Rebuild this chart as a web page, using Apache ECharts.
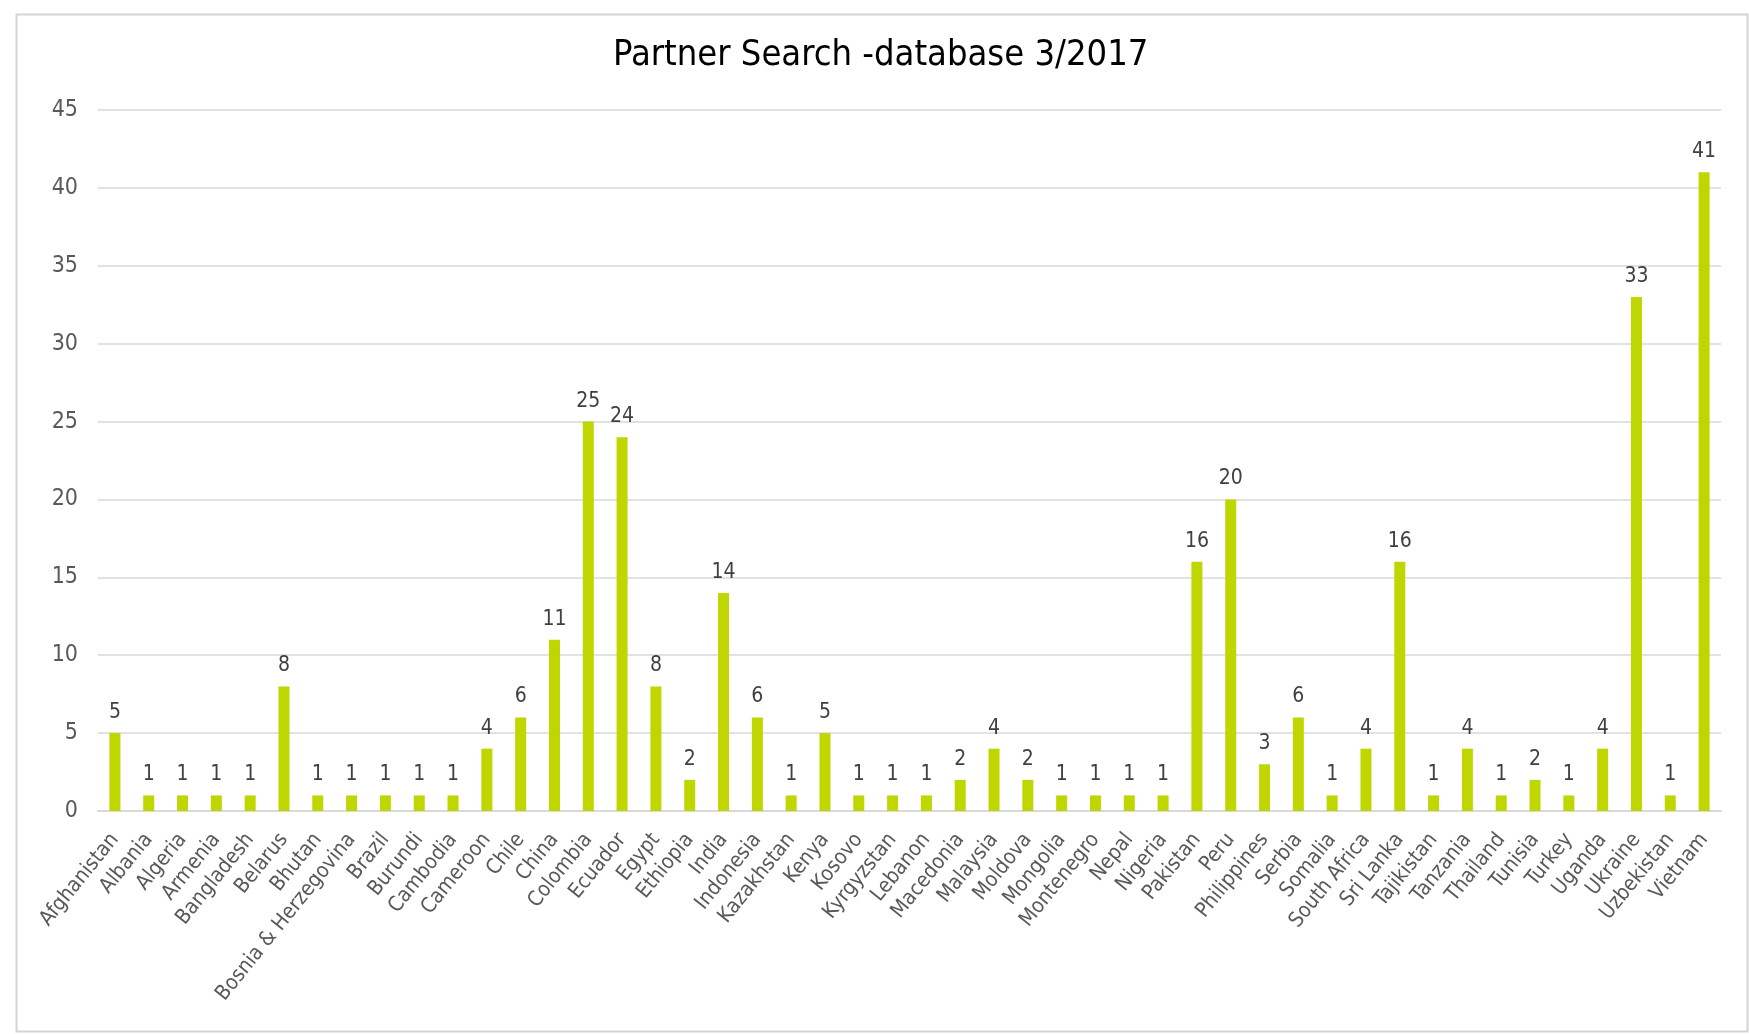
<!DOCTYPE html>
<html>
<head>
<meta charset="utf-8">
<script src="https://cdn.jsdelivr.net/npm/echarts@6/dist/echarts.min.js"></script>
<style>
html,body{margin:0;padding:0;background:#fff;}
#chart{width:1749px;height:1034px;}
</style>
</head>
<body>
<div id="chart"></div>
<script>
const categories = ["Afghanistan","Albania","Algeria","Armenia","Bangladesh","Belarus","Bhutan","Bosnia & Herzegovina","Brazil","Burundi","Cambodia","Cameroon","Chile","China","Colombia","Ecuador","Egypt","Ethiopia","India","Indonesia","Kazakhstan","Kenya","Kosovo","Kyrgyzstan","Lebanon","Macedonia","Malaysia","Moldova","Mongolia","Montenegro","Nepal","Nigeria","Pakistan","Peru","Philippines","Serbia","Somalia","South Africa","Sri Lanka","Tajikistan","Tanzania","Thailand","Tunisia","Turkey","Uganda","Ukraine","Uzbekistan","Vietnam"];
const values = [5,1,1,1,1,8,1,1,1,1,1,4,6,11,25,24,8,2,14,6,1,5,1,1,1,2,4,2,1,1,1,1,16,20,3,6,1,4,16,1,4,1,2,1,4,33,1,41];
const titleText = "Partner Search -database 3/2017";
const yMin = 0, yMax = 45, yInterval = 5;

const FONT = "'DejaVu Sans Condensed', 'DejaVu Sans', sans-serif";
const chart = echarts.init(document.getElementById('chart'), null, {renderer:'canvas'});
chart.setOption({
  backgroundColor: '#fff',
  animation: false,
  title: {
    text: titleText,
    left: 608, top: 33,
    textStyle: {fontFamily: FONT, fontSize: 36, fontWeight: 'normal', color: '#000'}
  },
  graphic: [{
    type: 'rect', left: 14, top: 12,
    shape: {width: 1731, height: 1017},
    style: {fill: 'none', stroke: '#d4d4d4', lineWidth: 2}
  }],
  grid: {left: 98, right: 28, top: 110, bottom: 223, containLabel: false},
  xAxis: {
    type: 'category', data: categories,
    axisLine: {show: true, lineStyle: {color: '#d9d9d9', width: 2}},
    axisTick: {show: false},
    axisLabel: {interval: 0, rotate: 51, margin: 25, color: '#595959', fontFamily: FONT, fontSize: 21}
  },
  yAxis: {
    type: 'value', min: yMin, max: yMax, interval: yInterval,
    axisLine: {show: false}, axisTick: {show: false},
    splitLine: {lineStyle: {color: '#d9d9d9', width: 1.5}},
    axisLabel: {margin: 20, color: '#595959', fontFamily: FONT, fontSize: 23}
  },
  series: [{
    type: 'bar', data: values, barWidth: 11,
    itemStyle: {color: '#bfd600'},
    label: {show: true, position: 'top', distance: 10, color: '#404040', fontFamily: FONT, fontSize: 21}
  }]
});
</script>
</body>
</html>
